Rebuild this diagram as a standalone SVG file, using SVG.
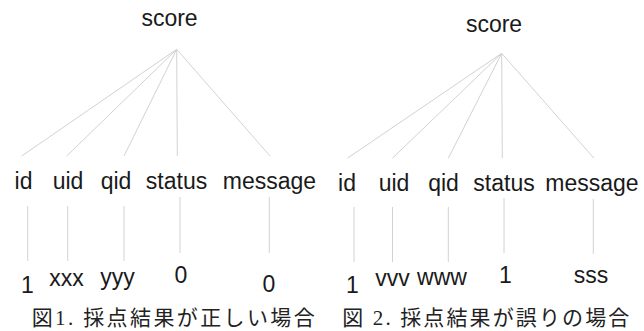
<svg xmlns="http://www.w3.org/2000/svg" width="644" height="331" viewBox="0 0 644 331">
<style>
.t{font-family:"Liberation Sans",Arial,sans-serif;font-size:23px;fill:#1a1a1a;text-anchor:middle}
.c{font-family:"Liberation Serif","Noto Sans CJK JP",serif;font-size:21px;fill:#222}
.e{stroke:#d2d2d2;stroke-width:1;fill:none}
</style>
<rect width="644" height="331" fill="#fff"/>
<g id="connectors">
<path class="e" d="M176.7 49.3L21.7 156M176.7 49.3L66.7 156M176.7 49.3L124 156M176.7 49.3L177.3 156M176.7 49.3L270 156"/>
<path class="e" d="M27.7 206V261M67.7 206V261M124 206V261M180 197V253M269.3 197V253"/>
<path class="e" d="M501.7 53.3L347.3 158.3M501.7 53.3L392.3 158.3M501.7 53.3L448.3 158.3M501.7 53.3L502.3 158.3M501.7 53.3L594 158.3"/>
<path class="e" d="M354 207V262M392.5 207V262M448.3 207V262M504 198V253M593.3 199V254"/>
</g>
<g id="score1"><text class="t" x="169.5" y="26">score</text></g>
<g id="id1"><text class="t" x="23.5" y="188.5">id</text></g>
<g id="uid1"><text class="t" x="68" y="188.5">uid</text></g>
<g id="qid1"><text class="t" x="116" y="188.5">qid</text></g>
<g id="status1"><text class="t" x="176.5" y="188.5">status</text></g>
<g id="message1"><text class="t" x="269.5" y="188.5">message</text></g>
<g id="v_id1"><text class="t" x="27.5" y="293">1</text></g>
<g id="v_uid1"><text class="t" x="66.5" y="286">xxx</text></g>
<g id="v_qid1"><text class="t" x="117.5" y="284.5">yyy</text></g>
<g id="v_status1"><text class="t" x="181" y="283">0</text></g>
<g id="v_message1"><text class="t" x="269" y="291.5">0</text></g>
<g id="caption1"><text class="c" x="31.7" y="325" textLength="283" lengthAdjust="spacing">図1. 採点結果が正しい場合</text></g>
<g id="score2"><text class="t" x="494" y="31.5">score</text></g>
<g id="id2"><text class="t" x="347" y="190.5">id</text></g>
<g id="uid2"><text class="t" x="394" y="190.5">uid</text></g>
<g id="qid2"><text class="t" x="443.5" y="190.5">qid</text></g>
<g id="status2"><text class="t" x="504" y="190.5">status</text></g>
<g id="message2"><text class="t" x="592" y="190.5">message</text></g>
<g id="v_id2"><text class="t" x="352.5" y="293">1</text></g>
<g id="v_uid2"><text class="t" x="392.5" y="286">vvv</text></g>
<g id="v_qid2"><text class="t" x="442" y="285">www</text></g>
<g id="v_status2"><text class="t" x="505.5" y="283">1</text></g>
<g id="v_message2"><text class="t" x="591" y="283">sss</text></g>
<g id="caption2"><text class="c" x="342.3" y="325" textLength="287" lengthAdjust="spacing">図 2. 採点結果が誤りの場合</text></g>
</svg>
